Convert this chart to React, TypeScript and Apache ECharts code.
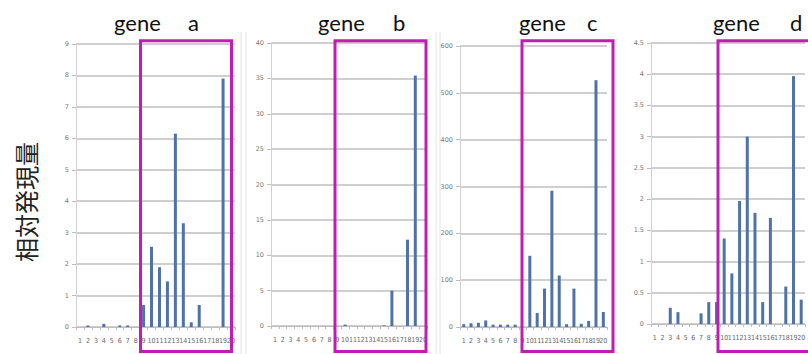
import React, { useEffect, useRef } from "react";
import * as echarts from "echarts";

const categories = ["1", "2", "3", "4", "5", "6", "7", "8", "9", "10", "11", "12", "13", "14", "15", "16", "17", "18", "19", "20"];

const geneA = [0, 0.05, 0, 0.1, 0, 0.05, 0.05, 0, 0.7, 2.55, 1.9, 1.45, 6.15, 3.3, 0.15, 0.7, 0, 0, 7.9, 0];
const geneB = [0, 0, 0, 0, 0, 0, 0, 0, 0, 0.2, 0, 0, 0, 0, 0.1, 5, 0, 12.2, 35.4, 0];
const geneC = [6, 8, 9, 14, 5, 5, 5, 5, 0, 152, 30, 82, 291, 110, 6, 82, 7, 13, 527, 32];
const geneD = [0, 0, 0.26, 0.19, 0, 0, 0.17, 0.35, 0.35, 1.37, 0.81, 1.97, 3.0, 1.78, 0.35, 1.7, 0, 0.6, 3.97, 0.39];

const geneNames = ["a", "b", "c", "d"];
const yMax = [9, 40, 600, 4.5];
const yStep = [1, 5, 100, 0.5];
const yLabel = "相対発現量";

export default function App() {
  const ref = useRef<HTMLDivElement>(null);
  useEffect(() => {
    document.body.style.margin = "0";
    const chart = echarts.init(ref.current!, null, { renderer: "svg" });
    const grids = [
      { left: 76, top: 44, width: 159, height: 283 },
      { left: 271, top: 43, width: 156, height: 283 },
      { left: 460, top: 46, width: 147, height: 281 },
      { left: 651, top: 43, width: 162, height: 281 },
    ];
    const seriesData = [geneA, geneB, geneC, geneD];
    const axisGray = "#bdbdbd";
    const xAxis = grids.map((_, i) => ({
      type: "category",
      gridIndex: i,
      data: categories,
      axisLine: { show: true, lineStyle: { color: axisGray, width: 1 } },
      axisTick: { show: true, length: 3, lineStyle: { color: axisGray } },
      axisLabel: { interval: 0, fontSize: 7, color: "#666", margin: 10, fontFamily: "DejaVu Sans Condensed, DejaVu Sans" },
    }));
    const yAxis = grids.map((_, i) => ({
      type: "value",
      gridIndex: i,
      min: 0,
      max: yMax[i],
      interval: yStep[i],
      axisLine: { show: true, lineStyle: { color: "#d0d0d0", width: 1 } },
      axisTick: { show: true, length: 4, lineStyle: { color: axisGray } },
      axisLabel: { fontSize: 6.5, color: "#777", margin: 7, fontFamily: "DejaVu Sans" },
      splitLine: { show: true, lineStyle: { color: "#bfbfbf", width: 1.6 } },
    }));
    const series = seriesData.map((d, i) => ({
      type: "bar",
      xAxisIndex: i,
      yAxisIndex: i,
      data: d,
      barWidth: 3,
      itemStyle: { color: "#4f72a8" },
    }));
    const magenta = "#c21cb6";
    const rects = [
      [140.5, 231.5],
      [335, 426],
      [522, 613],
      [718, 840],
    ];
    const titles = [
      [114, 188],
      [318, 393],
      [519, 587],
      [713, 790],
    ];
    const seps = [241, 246, 436, 440];
    const graphic: any[] = [];
    seps.forEach((x) =>
      graphic.push({
        type: "line",
        shape: { x1: x, y1: 32, x2: x, y2: 354 },
        style: { stroke: "#e4e4e4", lineWidth: 1 },
        silent: true,
      })
    );
    rects.forEach(([l, r]) =>
      graphic.push({
        type: "rect",
        shape: { x: l, y: 40.8, width: r - l, height: 310.7 },
        style: { fill: "none", stroke: magenta, lineWidth: 3 },
        z: 100,
      })
    );
    titles.forEach(([gx, lx], i) => {
      graphic.push({
        type: "text",
        x: gx,
        y: 22,
        style: { text: "gene", font: "22px Lato", fill: "#111", verticalAlign: "middle", align: "left" },
      });
      graphic.push({
        type: "text",
        x: lx,
        y: 22,
        style: { text: geneNames[i], font: "22px Lato", fill: "#111", verticalAlign: "middle", align: "left" },
      });
    });
    graphic.push({
      type: "text",
      x: 25,
      y: 202,
      rotation: Math.PI / 2,
      style: {
        text: yLabel,
        font: "24px 'Noto Sans CJK JP'",
        fill: "#222",
        align: "center",
        verticalAlign: "middle",
      },
    });
    chart.setOption({
      animation: false,
      backgroundColor: "#ffffff",
      grid: grids,
      xAxis,
      yAxis,
      series,
      graphic,
    });
    return () => chart.dispose();
  }, []);
  return <div ref={ref} style={{ width: 808, height: 354 }} />;
}
